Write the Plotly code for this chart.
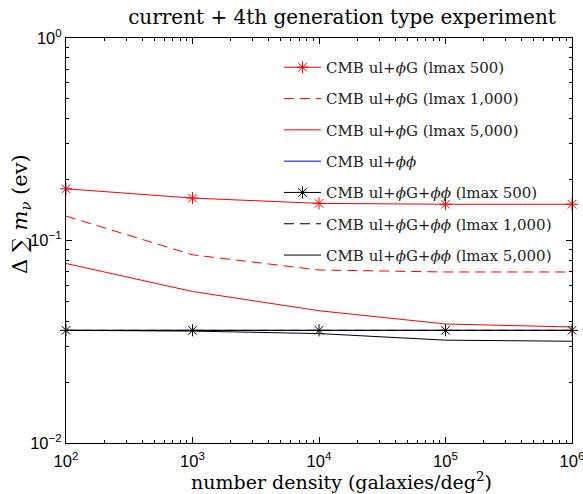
import plotly.graph_objects as go

# ---- data ----
number_density = [1e2, 1e3, 1e4, 1e5, 1e6]

phiG_l500 = [0.180, 0.162, 0.1525, 0.151, 0.151]
phiG_l1000 = [0.132, 0.085, 0.0715, 0.0699, 0.0699]
phiG_l5000 = [0.077, 0.056, 0.045, 0.0387, 0.0374]
phiphi = [0.0360, 0.0360, 0.0360, 0.0360, 0.0360]
phiG_phiphi_l500 = [0.0360, 0.0360, 0.0360, 0.0360, 0.0360]
phiG_phiphi_l1000 = [0.0360, 0.0360, 0.0360, 0.0360, 0.0360]
phiG_phiphi_l5000 = [0.0360, 0.0357, 0.0347, 0.0322, 0.0318]

x_tickvals = [1e2, 1e3, 1e4, 1e5, 1e6]
x_ticktext = ["10<sup>2</sup>", "10<sup>3</sup>", "10<sup>4</sup>", "10<sup>5</sup>", "10<sup>6</sup>"]
y_tickvals = [1e-2, 1e-1, 1e0]
y_ticktext = ["10<sup>−2</sup>", "10<sup>−1</sup>", "10<sup>0</sup>"]

names = [
    "CMB ul+<i>ϕ</i>G (lmax 500)",
    "CMB ul+<i>ϕ</i>G (lmax 1,000)",
    "CMB ul+<i>ϕ</i>G (lmax 5,000)",
    "CMB ul+<i>ϕϕ</i>",
    "CMB ul+<i>ϕ</i>G+<i>ϕϕ</i> (lmax 500)",
    "CMB ul+<i>ϕ</i>G+<i>ϕϕ</i> (lmax 1,000)",
    "CMB ul+<i>ϕ</i>G+<i>ϕϕ</i> (lmax 5,000)",
]
series = [phiG_l500, phiG_l1000, phiG_l5000, phiphi,
          phiG_phiphi_l500, phiG_phiphi_l1000, phiG_phiphi_l5000]
colors = ["#ff0000", "#ff0000", "#ff0000", "#0000ff", "#000000", "#000000", "#000000"]
dashes = ["solid", "10px,6px", "solid", "solid", "solid", "10px,6px", "solid"]
markers = [True, False, False, False, True, False, False]

W, H = 583, 494
PL, PR, PT, PB = 66, 11, 38, 51
plot_w, plot_h = W - PL - PR, H - PT - PB

fig = go.Figure()
for i, (nm, ys, c, d, m) in enumerate(zip(names, series, colors, dashes, markers)):
    fig.add_trace(go.Scatter(
        x=number_density, y=ys, name=nm,
        mode="lines+markers" if m else "lines",
        line=dict(color=c, width=1, dash=d),
        marker=dict(symbol="asterisk-open", size=10, color=c, line=dict(color=c, width=1)),
        legendgroup=f"g{i}", cliponaxis=False,
    ))

serif = "DejaVu Serif"
sans = "Liberation Sans"

axis_common = dict(
    type="log", showline=True, linecolor="black", linewidth=1, mirror="allticks",
    ticks="inside", ticklen=6, tickcolor="black", showgrid=False, zeroline=False,
    tickmode="array",
    minor=dict(ticks="inside", ticklen=3, tickcolor="black", showgrid=False, dtick="D1"),
    tickfont=dict(family=sans, size=16.5, color="black"),
    ticklabeloverflow="allow", automargin=False,
)

fig.update_layout(
    width=W, height=H,
    margin=dict(l=PL, r=PR, t=PT, b=PB, autoexpand=False),
    paper_bgcolor="white", plot_bgcolor="white",
    title=dict(text="current + 4th generation type experiment",
               font=dict(family=serif, size=20, color="black"),
               x=342 / W, xref="container", xanchor="center",
               y=1 - 17 / H, yref="container", yanchor="middle"),
    xaxis=dict(axis_common, range=[2, 6], tickvals=x_tickvals, ticktext=x_ticktext,
               ticklabelstandoff=3),
    yaxis=dict(axis_common, range=[-2, 0], tickvals=y_tickvals, ticktext=y_ticktext),
    legend=dict(x=279 / W, y=1 - 51 / H, xref="container", yref="container",
                xanchor="left", yanchor="top",
                bgcolor="rgba(0,0,0,0)", borderwidth=0, itemwidth=37,
                font=dict(family=serif, size=15, color="#222"),
                tracegroupgap=8.8, traceorder="grouped"),
    showlegend=True,
    annotations=[
        dict(text="number density (galaxies/deg<sup>2</sup>)",
             xref="paper", yref="paper", x=(341 - PL) / plot_w, y=-(481 - (H - PB)) / plot_h,
             xanchor="center", yanchor="middle", showarrow=False,
             font=dict(family=serif, size=19, color="black")),
        dict(text="Δ ∑ <i>m</i><sub><i>ν</i></sub> (ev)", textangle=-90,
             xref="paper", yref="paper", x=-(PL - 21) / plot_w, y=((H - PB) - 214) / plot_h,
             xanchor="center", yanchor="middle", showarrow=False,
             font=dict(family=serif, size=21, color="black")),
    ],
)

fig.write_html("out.html")
